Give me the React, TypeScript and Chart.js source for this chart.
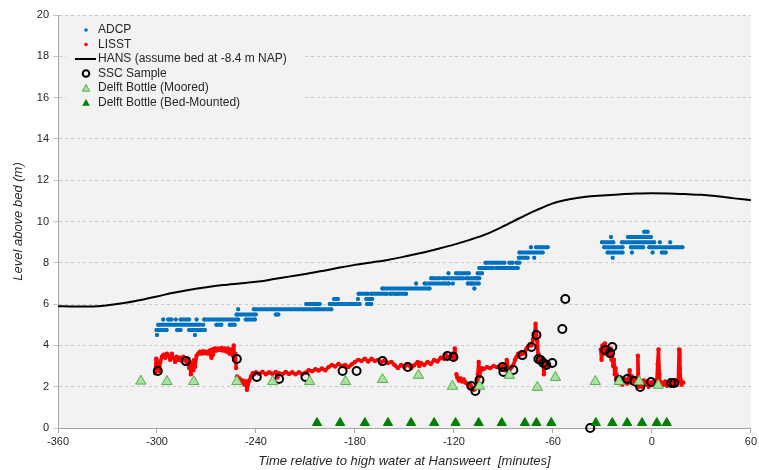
import React, { useEffect, useRef } from 'react';
import { Chart, registerables } from 'chart.js';

Chart.register(...registerables);

// ---------- DATA ----------
const hansTime = [-360, -350, -340, -330, -320, -310, -300, -290, -280, -270, -260, -250, -240, -230, -220, -210, -200, -190, -180, -170, -160, -150, -140, -130, -120, -110, -100, -90, -80, -70, -60, -50, -40, -30, -20, -10, 0, 10, 20, 30, 40, 50, 60];
const hansLevel = [5.9, 5.88, 5.88, 5.94, 6.05, 6.2, 6.37, 6.55, 6.7, 6.82, 6.92, 7.0, 7.08, 7.2, 7.33, 7.46, 7.6, 7.76, 7.9, 8.02, 8.14, 8.3, 8.47, 8.67, 8.88, 9.12, 9.4, 9.77, 10.17, 10.55, 10.88, 11.08, 11.2, 11.26, 11.31, 11.35, 11.37, 11.36, 11.33, 11.29, 11.22, 11.12, 11.03];

// ADCP: [level, start time, end time] runs of quantised levels
const adcpRuns: [number, number, number][] = [
  [4.5, -300, -300], [4.5, -277, -277],
  [4.75, -300.3, -294.2], [4.75, -287.8, -285.7], [4.75, -280.5, -271],
  [5.0, -299.3, -274], [5.0, -272, -272], [5.0, -264, -261], [5.0, -255.9, -252.9],
  [5.25, -296.2, -296.2], [5.25, -293.2, -291.2], [5.25, -288.6, -288.6], [5.25, -285.7, -280.5], [5.25, -276, -276], [5.25, -271.4, -250.8], [5.25, -246.2, -240.7],
  [5.5, -251.8, -240.1], [5.5, -228, -226.4],
  [5.75, -250.8, -250.8], [5.75, -241.3, -203.4], [5.75, -202.4, -194.3],
  [6.0, -209.5, -205.4], [6.0, -204.4, -201.4], [6.0, -195.3, -177.2], [6.0, -172.7, -170.1],
  [6.25, -192.7, -190.3], [6.25, -178.2, -178.2], [6.25, -173.1, -169.5],
  [6.5, -177.8, -172.1], [6.5, -170.1, -160.6], [6.5, -158.6, -155], [6.5, -154, -149],
  [6.75, -163.4, -134.8], [6.75, -107.6, -107.6],
  [7.0, -142.9, -142.9], [7.0, -137.8, -123.1], [7.0, -120.7, -120.7], [7.0, -111.6, -109.6], [7.0, -108.6, -105],
  [7.25, -133.8, -128.7], [7.25, -126.7, -114.6], [7.25, -112.6, -107], [7.25, -106.2, -104.6],
  [7.5, -123.3, -123.3], [7.5, -118.7, -111], [7.5, -105.6, -103],
  [7.75, -104.6, -96.5], [7.75, -94.5, -81.3],
  [8.0, -100.9, -89.4], [8.0, -86.4, -84.4], [8.0, -82, -80.3],
  [8.25, -80.7, -75.3], [8.25, -71.3, -71.3], [8.25, -23.8, -23.8],
  [8.5, -80.3, -66.2], [8.5, -26.9, -17.8], [8.5, -12.1, -12.1], [8.5, 0.4, 0.4], [8.5, 6, 8.4],
  [8.75, -73.3, -73.3], [8.75, -70.2, -63.2], [8.75, -28.9, -17.8], [8.75, -12.7, -5.3], [8.75, -1.6, 18.5],
  [9.0, -30.3, -23.4], [9.0, -18.2, 1.4], [9.0, 4.8, 4.8], [9.0, 11.1, 11.1],
  [9.25, -24.8, -24.8], [9.25, -14.5, -7.7], [9.25, -6.3, -0.6],
  [9.5, -4.7, -2.6],
];

// LISST: [time, level] samples, four recording bursts
const lisstSeg1: [number, number][] = [
  [-301, 2.65], [-300.5, 3.35], [-300, 2.9], [-299, 3.1], [-298.5, 2.75], [-298, 3.2], [-297, 3.45], [-296, 3.55], [-295, 3.4], [-294, 3.6], [-293, 3.5], [-292, 3.3], [-291, 3.6], [-290, 3.4], [-289, 3.2], [-288, 3.45], [-287, 3.3], [-286, 3.4], [-285, 3.25], [-284, 3.45], [-283, 3.3], [-282, 3.2], [-281, 3.35], [-280.5, 2.9], [-280, 3.2], [-279.5, 2.6], [-279, 3.1], [-278, 2.8], [-277.5, 3.3], [-277, 2.95], [-276, 3.5], [-275, 3.6], [-274, 3.7], [-273, 3.6], [-272, 3.72], [-271, 3.62], [-270, 3.7], [-269, 3.6], [-268, 3.75], [-267, 3.4], [-266.5, 3.8], [-266, 3.55], [-265, 3.85], [-264, 3.75], [-263, 3.85], [-262, 3.78], [-261, 3.88], [-260, 3.75], [-259, 3.85], [-258, 3.7], [-257, 3.85], [-256, 3.6], [-255, 3.8], [-254, 3.5], [-253.5, 4.0], [-253, 3.3], [-252.5, 3.6], [-252, 2.9],
];
const lisstSeg2: [number, number][] = [
  [-251.5, 2.5], [-251, 2.35], [-250, 2.4], [-249, 2.2], [-248, 2.3], [-247, 2.1], [-246, 2.25], [-245.5, 1.85], [-245, 2.05], [-244, 2.3], [-243, 2.5], [-242, 2.65], [-241, 2.6], [-240, 2.7], [-238, 2.62], [-236, 2.72], [-234, 2.6], [-232, 2.7], [-230, 2.62], [-228, 2.72], [-227, 2.45], [-226, 2.65], [-224, 2.6], [-222, 2.72], [-220, 2.62], [-218, 2.7], [-216, 2.6], [-214, 2.7], [-212, 2.62], [-210, 2.68], [-208, 2.8], [-206, 2.75], [-204, 2.85], [-202, 2.78], [-200, 2.88], [-198, 2.8], [-196, 2.95], [-194, 3.05], [-192, 2.98], [-190, 3.1], [-188, 3.0], [-186, 3.05], [-184, 2.95], [-182, 3.08], [-180, 3.2], [-178, 3.3], [-176, 3.25], [-174, 3.35], [-172, 3.22], [-170, 3.35], [-168, 3.25], [-166, 3.3], [-164, 3.2], [-162, 3.28], [-160, 3.15], [-158, 3.2], [-156, 3.05], [-154, 2.9], [-152, 3.05], [-150, 2.95], [-148, 3.1], [-146, 2.9], [-144, 3.05], [-142, 3.2], [-141, 3.0], [-140, 3.15], [-138, 3.05], [-136, 3.2], [-134, 3.1], [-132, 3.3], [-130, 3.22], [-128, 3.4], [-126, 3.35], [-125, 3.55], [-124, 3.4], [-122, 3.5], [-121, 3.6], [-120, 3.35], [-119.5, 3.85], [-119, 3.4],
];
const lisstSeg3: [number, number][] = [
  [-118.5, 2.6], [-118, 2.45], [-117, 2.3], [-116, 2.4], [-115, 2.25], [-114, 2.35], [-113, 2.2], [-112, 2.15], [-111, 2.0], [-110, 2.1], [-109, 1.95], [-108, 1.85], [-107, 1.9], [-106, 2.3], [-105.5, 2.6], [-105, 3.2], [-104.5, 2.5], [-104, 2.75], [-103, 2.9], [-102, 2.85], [-100, 2.95], [-98, 2.9], [-96, 3.0], [-94, 2.95], [-92, 3.0], [-91, 2.85], [-90, 3.05], [-89, 2.8], [-88, 3.3], [-87, 2.9], [-86, 2.85], [-85, 2.95], [-84, 3.05], [-83, 3.3], [-82, 3.45], [-81, 3.6], [-80, 3.55], [-79, 3.65], [-78, 3.6], [-77, 3.7], [-76, 3.85], [-75, 3.95], [-74, 4.05], [-73, 4.0], [-72, 4.3], [-71, 4.6], [-70.5, 5.05], [-70, 4.5], [-69.5, 4.2], [-69, 3.6], [-68.5, 3.3], [-68, 3.45], [-67, 3.2], [-66, 3.35], [-65.5, 2.6], [-65, 3.1], [-64, 3.2], [-63.5, 3.0],
];
const lisstSeg4: [number, number][] = [
  [-31, 3.8], [-30.5, 3.3], [-30, 4.0], [-29, 3.6], [-28.5, 4.1], [-28, 3.7], [-27, 3.9], [-26, 3.5], [-25, 3.85], [-24.5, 3.3], [-24, 3.6], [-23.5, 3.0], [-23, 3.3], [-22.5, 2.6], [-22, 2.9], [-21.5, 2.4], [-21, 2.55], [-20, 2.2], [-19, 2.4], [-18, 2.1], [-17, 2.3], [-16, 2.35], [-15, 2.15], [-14, 2.4], [-13.5, 2.8], [-13, 2.2], [-12, 2.5], [-11, 2.3], [-10, 2.1], [-9, 2.35], [-8.5, 3.5], [-8, 2.0], [-7, 2.25], [-6, 2.0], [-5, 2.3], [-4, 2.1], [-3, 2.25], [-2, 2.0], [-1, 2.2], [0, 2.1], [1, 2.25], [2, 2.05], [3, 2.3], [3.5, 3.1], [4, 3.8], [4.5, 2.6], [5, 2.05], [6, 2.2], [7, 2.1], [8, 2.25], [9, 2.05], [10, 2.2], [11, 2.1], [12, 2.2], [13, 2.05], [14, 2.2], [15, 2.1], [16, 2.25], [16.5, 3.8], [17, 2.9], [17.5, 2.3], [18, 2.1], [19, 2.2],
];

const sscTime = [-299.5, -282.5, -251.6, -239.5, -226, -210, -187.5, -179, -163.3, -148, -124, -120.3, -109.4, -107, -104.5, -90.6, -90, -84, -78.5, -73, -70, -68.8, -67.6, -65.8, -64, -60.4, -54.3, -52.5, -37.4, -28.3, -25.3, -24, -19.8, -14.9, -10.7, -7.1, -0.5, 11.7, 13.5];
const sscLevel = [2.76, 3.24, 3.34, 2.47, 2.37, 2.47, 2.76, 2.76, 3.24, 2.95, 3.49, 3.44, 2.03, 1.79, 2.32, 2.95, 2.71, 2.81, 3.53, 3.92, 4.5, 3.34, 3.29, 3.15, 3.05, 3.15, 4.79, 6.25, 0.0, 3.78, 3.63, 3.92, 2.32, 2.37, 2.28, 1.99, 2.23, 2.18, 2.18];

const mooredTime = [-309.8, -294, -277.7, -251.6, -229.9, -207.5, -185.7, -163.3, -141.5, -120.9, -104.5, -86.4, -69.4, -58.5, -34.3, -19.8, -7.7, 3.8];
const mooredLevel = [2.27, 2.25, 2.25, 2.25, 2.25, 2.25, 2.25, 2.35, 2.55, 2.02, 2.02, 2.55, 1.97, 2.45, 2.25, 2.25, 2.25, 2.07];

const bedTime = [-203, -189, -174, -160, -146, -132, -119, -105, -91, -77, -70, -61, -34, -24, -15, -6, 3, 9];
const bedLevel = [0.25, 0.25, 0.25, 0.25, 0.25, 0.25, 0.25, 0.25, 0.25, 0.25, 0.25, 0.25, 0.25, 0.25, 0.25, 0.25, 0.25, 0.25];

const legendLabels = ['ADCP', 'LISST', 'HANS (assume bed at -8.4 m NAP)', 'SSC Sample', 'Delft Bottle (Moored)', 'Delft Bottle (Bed-Mounted)'];

const xTitle = 'Time relative to high water at Hansweert  [minutes]';
const yTitle = 'Level above bed (m)';

// ---------- STYLE ----------
const FONT = "'Liberation Sans', Arial, sans-serif";
const BLUE = '#0070c0';
const RED = '#ff0000';
const LIGHT_GREEN = '#a9df9f';
const LIGHT_GREEN_BORDER = '#55b04f';
const DARK_GREEN = '#008000';
const TEXT = '#262626';

function pairs(xs: number[], ys: number[]) {
  return xs.map((x, i) => ({ x, y: ys[i] }));
}

function runsToPoints(runs: [number, number, number][]) {
  const pts: { x: number; y: number | null }[] = [];
  for (const [lvl, a, b] of runs) {
    pts.push({ x: a, y: lvl });
    if (b !== a) pts.push({ x: b, y: lvl });
    pts.push({ x: b, y: null });
  }
  return pts;
}

function segmentsToPoints(segs: [number, number][][]) {
  const pts: { x: number; y: number | null }[] = [];
  segs.forEach((seg) => {
    seg.forEach(([x, y]) => pts.push({ x, y }));
    pts.push({ x: seg[seg.length - 1][0], y: null });
  });
  return pts;
}

const backgroundPlugin = {
  id: 'bgPlot',
  beforeDraw(chart: any) {
    const { ctx, chartArea, width, height } = chart;
    ctx.save();
    ctx.fillStyle = '#ffffff';
    ctx.fillRect(0, 0, width, height);
    ctx.fillStyle = '#f2f2f2';
    ctx.fillRect(chartArea.left, chartArea.top, chartArea.right - chartArea.left, chartArea.bottom - chartArea.top);
    ctx.restore();
  },
};

function triangle(ctx: CanvasRenderingContext2D, x: number, y: number, r: number) {
  ctx.beginPath();
  ctx.moveTo(x, y - r);
  ctx.lineTo(x + 0.866 * r, y + 0.5 * r);
  ctx.lineTo(x - 0.866 * r, y + 0.5 * r);
  ctx.closePath();
}

const legendPlugin = {
  id: 'customLegend',
  afterDraw(chart: any) {
    const { ctx, chartArea } = chart;
    const left = chartArea.left;
    const top = chartArea.top;
    ctx.save();
    ctx.fillStyle = '#f2f2f2';
    ctx.fillRect(left + 8, top + 6, 236, 96);
    const sx = left + 28;
    const tx = left + 40;
    const row0 = top + 15;
    const dy = 14.5;
    ctx.font = `12px ${FONT}`;
    ctx.textBaseline = 'middle';
    ctx.textAlign = 'left';
    legendLabels.forEach((label, i) => {
      const y = row0 + i * dy;
      if (i === 0 || i === 1) {
        ctx.fillStyle = i === 0 ? BLUE : RED;
        ctx.beginPath();
        ctx.arc(sx, y, 1.8, 0, Math.PI * 2);
        ctx.fill();
      } else if (i === 2) {
        ctx.strokeStyle = '#000';
        ctx.lineWidth = 2;
        ctx.beginPath();
        ctx.moveTo(sx - 11, y);
        ctx.lineTo(sx + 10, y);
        ctx.stroke();
      } else if (i === 3) {
        ctx.strokeStyle = '#000';
        ctx.lineWidth = 2;
        ctx.beginPath();
        ctx.arc(sx, y, 3.3, 0, Math.PI * 2);
        ctx.stroke();
      } else if (i === 4) {
        triangle(ctx, sx, y + 1, 4.4);
        ctx.fillStyle = LIGHT_GREEN;
        ctx.fill();
        ctx.strokeStyle = LIGHT_GREEN_BORDER;
        ctx.lineWidth = 1;
        ctx.stroke();
      } else {
        triangle(ctx, sx, y + 1, 4.4);
        ctx.fillStyle = DARK_GREEN;
        ctx.fill();
      }
      ctx.fillStyle = TEXT;
      ctx.fillText(label, tx, y);
    });
    ctx.restore();
  },
};

export default function App() {
  const canvasRef = useRef<HTMLCanvasElement | null>(null);

  useEffect(() => {
    document.body.style.margin = '0';
    const canvas = canvasRef.current;
    if (!canvas) return;
    const chart = new Chart(canvas, {
      type: 'scatter',
      data: {
        datasets: [
          {
            label: legendLabels[5],
            data: pairs(bedTime, bedLevel),
            pointStyle: 'triangle',
            pointRadius: 5.3,
            backgroundColor: DARK_GREEN,
            borderColor: DARK_GREEN,
            borderWidth: 1,
            showLine: false,
            clip: false as any,
          },
          {
            label: legendLabels[4],
            data: pairs(mooredTime, mooredLevel),
            pointStyle: 'triangle',
            pointRadius: 6,
            backgroundColor: LIGHT_GREEN,
            borderColor: LIGHT_GREEN_BORDER,
            borderWidth: 1,
            showLine: false,
            clip: false as any,
          },
          {
            label: legendLabels[3],
            data: pairs(sscTime, sscLevel),
            pointStyle: 'circle',
            pointRadius: 4,
            backgroundColor: 'rgba(0,0,0,0)',
            borderColor: '#000000',
            borderWidth: 2,
            showLine: false,
            clip: false as any,
          },
          {
            label: legendLabels[2],
            data: pairs(hansTime, hansLevel),
            showLine: true,
            pointRadius: 0,
            borderColor: '#000000',
            borderWidth: 2,
            cubicInterpolationMode: 'monotone',
          },
          {
            label: legendLabels[1],
            data: segmentsToPoints([lisstSeg1, lisstSeg2, lisstSeg3, lisstSeg4]) as any,
            showLine: true,
            spanGaps: false,
            pointRadius: 2.2,
            pointBorderWidth: 0,
            backgroundColor: RED,
            borderColor: RED,
            borderWidth: 3.5,
            borderJoinStyle: 'round',
          },
          {
            label: legendLabels[0],
            data: runsToPoints(adcpRuns) as any,
            showLine: true,
            spanGaps: false,
            pointRadius: 2,
            pointBorderWidth: 0,
            backgroundColor: BLUE,
            borderColor: BLUE,
            borderWidth: 4,
            borderCapStyle: 'round',
          },
        ],
      },
      options: {
        animation: false,
        responsive: false,
        maintainAspectRatio: false,
        events: [],
        layout: { padding: { left: 0, right: 7, top: 15, bottom: 0 } },
        plugins: {
          legend: { display: false },
          tooltip: { enabled: false },
        },
        scales: {
          x: {
            type: 'linear',
            min: -360,
            max: 60,
            ticks: {
              stepSize: 60,
              autoSkip: false,
              maxRotation: 0,
              padding: 2,
              color: TEXT,
              font: { family: FONT, size: 11 },
            },
            grid: { drawOnChartArea: false, drawTicks: true, tickLength: 5, color: '#a6a6a6' },
            border: { color: '#a6a6a6', width: 1 },
            title: {
              display: true,
              text: xTitle,
              color: TEXT,
              font: { family: FONT, size: 13, style: 'italic' },
              padding: { top: 0, bottom: 1 },
            },
            afterFit: (s: any) => {
              s.height = 42;
            },
          },
          y: {
            type: 'linear',
            min: 0,
            max: 20,
            ticks: {
              stepSize: 2,
              padding: 4,
              color: TEXT,
              font: { family: FONT, size: 11 },
            },
            grid: { color: '#c8c8c8', tickLength: 5 },
            border: { color: '#a6a6a6', width: 1, dash: [3, 3] },
            title: {
              display: true,
              text: yTitle,
              color: TEXT,
              font: { family: FONT, size: 13, style: 'italic' },
              padding: { top: 11, bottom: 0 },
            },
            afterFit: (s: any) => {
              s.width = 58;
            },
          },
        },
      } as any,
      plugins: [backgroundPlugin, legendPlugin],
    });
    return () => chart.destroy();
  }, []);

  return (
    <div style={{ position: 'absolute', left: 0, top: 0, width: 759, height: 470 }}>
      <canvas ref={canvasRef} width={759} height={470} style={{ width: 759, height: 470, display: 'block' }} />
    </div>
  );
}
